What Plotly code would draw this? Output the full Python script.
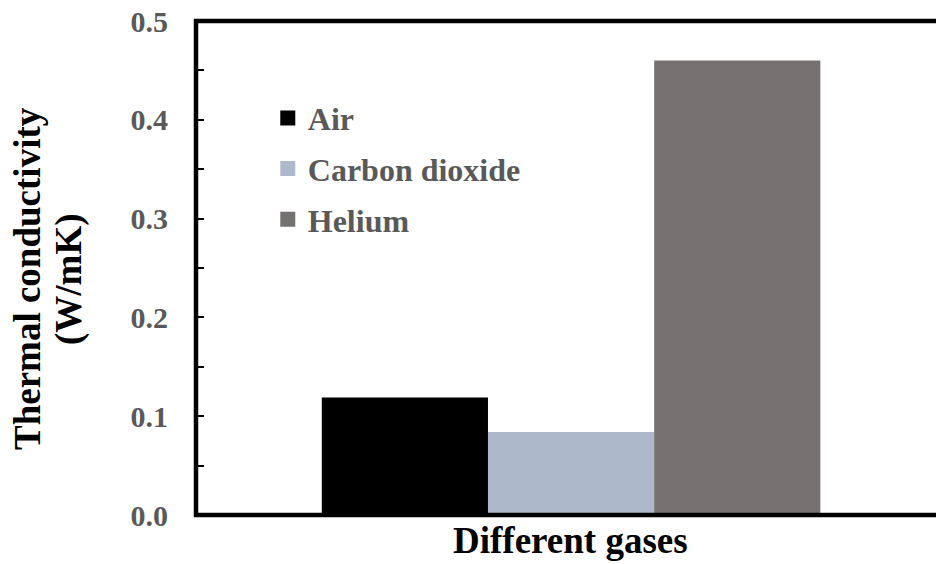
import plotly.graph_objects as go

# Thermal conductivity of the filling gases (W/mK)
gases = ["Air", "Carbon dioxide", "Helium"]
conductivity = [0.119, 0.084, 0.46]
bar_colors = ["#000000", "#ADB9CA", "#767171"]

y_tick_values = [0.0, 0.1, 0.2, 0.3, 0.4, 0.5]
y_tick_labels = ["0.0", "0.1", "0.2", "0.3", "0.4", "0.5"]

x_title = "Different gases"
y_title_lines = ["Thermal conductivity", "(W/mK)"]

SERIF = "Liberation Serif"
GREY_TEXT = "#595959"

fig = go.Figure()

for gas, value, color in zip(gases, conductivity, bar_colors):
    # the bar itself
    fig.add_trace(go.Bar(
        x=[gas], y=[value], name=gas, width=1,
        marker=dict(color=color, line=dict(width=0)),
        legendgroup=gas, showlegend=False,
    ))
    # legend swatch (square marker)
    fig.add_trace(go.Scatter(
        x=[None], y=[None], mode="markers", name=gas,
        marker=dict(symbol="square", size=15, color=color, line=dict(width=0)),
        legendgroup=gas, showlegend=True,
    ))

fig.update_layout(
    width=936, height=564,
    margin=dict(l=196, r=0, t=21, b=49, pad=0),
    paper_bgcolor="white", plot_bgcolor="white",
    barmode="overlay",
    showlegend=True,
    legend=dict(
        x=0.097, y=0.859, xanchor="left", yanchor="top",
        bgcolor="rgba(0,0,0,0)", borderwidth=0,
        tracegroupgap=6,
        font=dict(family=SERIF, size=32, color=GREY_TEXT, weight="bold"),
    ),
    xaxis=dict(
        type="category", categoryorder="array", categoryarray=gases,
        range=[-1.257, 3.196],
        showticklabels=False, ticks="", showgrid=False,
        zeroline=False, showline=False,
    ),
    yaxis=dict(
        range=[0, 0.5],
        tickmode="array", tickvals=y_tick_values, ticktext=y_tick_labels,
        ticks="inside", ticklen=8, tickwidth=1.5, tickcolor="black",
        minor=dict(ticks="inside", ticklen=8, tickwidth=1.5,
                   tickcolor="black", dtick=0.05, tick0=0, showgrid=False),
        ticklabelstandoff=27,
        tickfont=dict(family=SERIF, size=30, color=GREY_TEXT, weight="bold"),
        showgrid=False, zeroline=False, showline=False,
    ),
    shapes=[
        # plot frame: top, left and bottom edges
        dict(type="path", xref="paper", yref="paper",
             path="M 1.01,1 L 0,1 L 0,0 L 1.01,0",
             line=dict(color="black", width=4.5)),
    ],
    annotations=[
        dict(text=x_title, xref="paper", yref="paper", x=0.5, y=0,
             xanchor="center", yanchor="middle", xshift=4, yshift=-25,
             showarrow=False,
             font=dict(family=SERIF, size=37, color="black", weight="bold")),
        dict(text=y_title_lines[0], xref="paper", yref="paper", x=0, y=0.5,
             xanchor="center", yanchor="middle", xshift=-169, yshift=-11,
             textangle=-90, showarrow=False,
             font=dict(family=SERIF, size=37, color="black", weight="bold")),
        dict(text=y_title_lines[1], xref="paper", yref="paper", x=0, y=0.5,
             xanchor="center", yanchor="middle", xshift=-127, yshift=-11,
             textangle=-90, showarrow=False,
             font=dict(family=SERIF, size=37, color="black", weight="bold")),
    ],
)

fig.write_html("out.html")
